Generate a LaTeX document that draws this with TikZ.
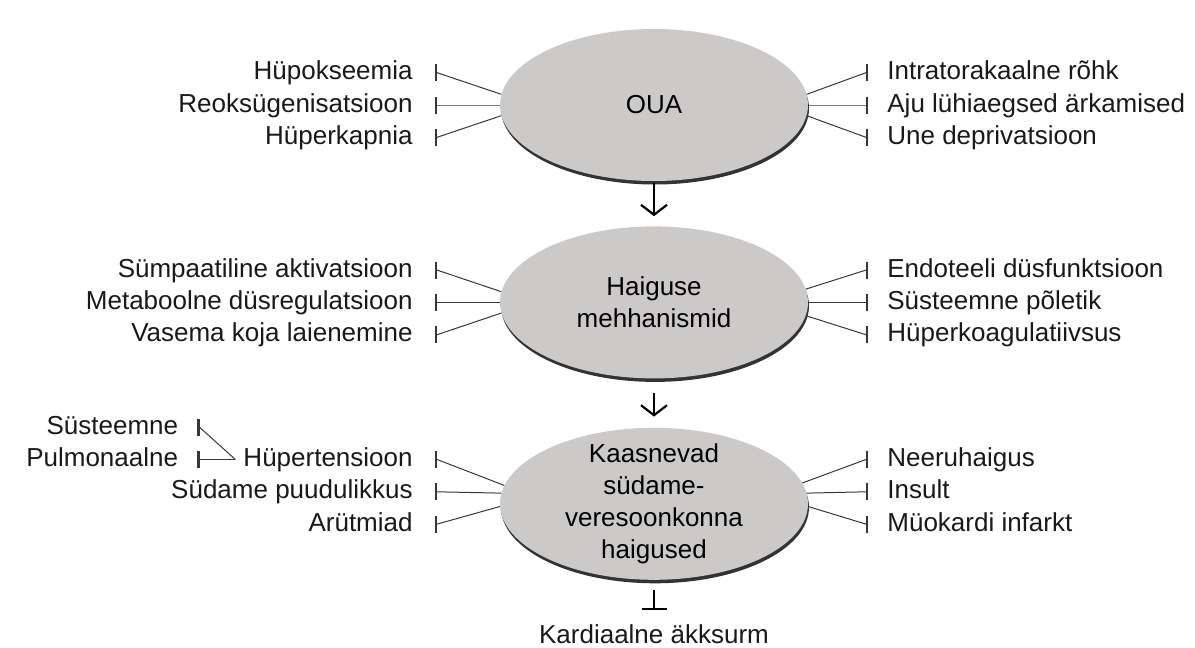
\documentclass[tikz,border=0pt]{standalone}
\usepackage{fontspec}
\setmainfont{Liberation Sans}
\usetikzlibrary{shapes.geometric, arrows.meta, positioning, shadows}

\definecolor{ellgray}{RGB}{204,201,201}
\definecolor{linegray}{RGB}{55,55,55}

\tikzstyle{disease} = [ellipse, minimum width=308pt, minimum height=152pt, inner xsep=0pt, inner ysep=-12pt, fill=ellgray, align=center, drop shadow={shadow xshift=1pt, shadow yshift=-3.5pt, fill=black!80, opacity=1}, font=\fontsize{26}{32}\selectfont]
\tikzstyle{factor} = [inner sep=0pt, text height=19pt, text depth=5pt, text=black!90, font=\fontsize{26}{32}\selectfont]
\tikzstyle{inhibit} = [draw=linegray, line width=1pt, -{Bar[width=17pt, line width=2.6pt]}]
\tikzstyle{arrow} = [line width=2.2pt, -{Straight Barb[length=10pt, width=26pt, line width=2.2pt]}]
\tikzstyle{endbar} = [line width=2.2pt, -{Bar[width=25pt, line width=2.2pt]}]

\begin{document}
\begin{tikzpicture}
\useasboundingbox (0pt,0pt) rectangle (1195pt,-648pt);

% Nodes
\node (oua) [disease] at (654pt,-105pt) {OUA};
\node (haig) [disease, below=45pt of oua] {Haiguse\\mehhanismid};
\node (kaas) [disease, below=49pt of haig] {Kaasnevad\\südame-\\veresoonkonna\\haigused};
\node (kard) [factor, below=44pt of kaas] {Kardiaalne äkksurm};

\node (reoks) [factor, left=87pt of oua.west] {Reoksügenisatsioon};
\node (hypox) [factor, above left=8pt and 0pt of reoks.north east] {Hüpokseemia};
\node (hyperk) [factor, below left=8pt and 0pt of reoks.south east] {Hüperkapnia};
\node (aju) [factor, right=79pt of oua.east] {Aju lühiaegsed ärkamised};
\node (intra) [factor, above right=8pt and 0pt of aju.north west] {Intratorakaalne rõhk};
\node (une) [factor, below right=8pt and 0pt of aju.south west] {Une deprivatsioon};

\node (metab) [factor, left=87pt of haig.west] {Metaboolne düsregulatsioon};
\node (symp) [factor, above left=8pt and 0pt of metab.north east] {Sümpaatiline aktivatsioon};
\node (vasema) [factor, below left=8pt and 0pt of metab.south east] {Vasema koja laienemine};
\node (systp) [factor, right=79pt of haig.east] {Süsteemne põletik};
\node (endo) [factor, above right=8pt and 0pt of systp.north west] {Endoteeli düsfunktsioon};
\node (koag) [factor, below right=8pt and 0pt of systp.south west] {Hüperkoagulatiivsus};

\node (sudame) [factor, left=87pt of kaas.west, yshift=12pt] {Südame puudulikkus};
\node (hypert) [factor, above left=8pt and 0pt of sudame.north east] {Hüpertensioon};
\node (arytm) [factor, below left=8pt and 0pt of sudame.south east] {Arütmiad};
\node (insult) [factor, right=79pt of kaas.east, yshift=12pt] {Insult};
\node (neeru) [factor, above right=8pt and 0pt of insult.north west] {Neeruhaigus};
\node (myok) [factor, below right=8pt and 0pt of insult.south west] {Müokardi infarkt};

\node (pulmo) [factor, left=65pt of hypert.west] {Pulmonaalne};
\node (syst) [factor, above left=8pt and 0pt of pulmo.north east] {Süsteemne};

% Arrows
\draw [arrow, shorten <=2pt, shorten >=10pt] (oua) -- (haig);
\draw [arrow, shorten <=14pt, shorten >=11pt] (haig) -- (kaas);
\draw [endbar, shorten <=10pt, shorten >=14pt] (kaas) -- (kard);

\draw [inhibit] (oua.176) -- ([xshift=24pt]hypox.east) -- ([xshift=22pt]hypox.east);
\draw [inhibit] (oua.180) -- ([xshift=24pt]reoks.east) -- ([xshift=22pt]reoks.east);
\draw [inhibit] (oua.184) -- ([xshift=24pt]hyperk.east) -- ([xshift=22pt]hyperk.east);
\draw [inhibit] (oua.4) -- ([xshift=-21pt]intra.west) -- ([xshift=-19pt]intra.west);
\draw [inhibit] (oua.0) -- ([xshift=-21pt]aju.west) -- ([xshift=-19pt]aju.west);
\draw [inhibit] (oua.-4) -- ([xshift=-21pt]une.west) -- ([xshift=-19pt]une.west);

\draw [inhibit] (haig.176) -- ([xshift=24pt]symp.east) -- ([xshift=22pt]symp.east);
\draw [inhibit] (haig.180) -- ([xshift=24pt]metab.east) -- ([xshift=22pt]metab.east);
\draw [inhibit] (haig.184) -- ([xshift=24pt]vasema.east) -- ([xshift=22pt]vasema.east);
\draw [inhibit] (haig.5) -- ([xshift=-21pt]endo.west) -- ([xshift=-19pt]endo.west);
\draw [inhibit] (haig.0) -- ([xshift=-21pt]systp.west) -- ([xshift=-19pt]systp.west);
\draw [inhibit] (haig.-5) -- ([xshift=-21pt]koag.west) -- ([xshift=-19pt]koag.west);

\draw [inhibit] (kaas.173) -- ([xshift=24pt]hypert.east) -- ([xshift=22pt]hypert.east);
\draw [inhibit] (kaas.176) -- ([xshift=24pt]sudame.east) -- ([xshift=22pt]sudame.east);
\draw [inhibit] (kaas.181) -- ([xshift=24pt]arytm.east) -- ([xshift=22pt]arytm.east);
\draw [inhibit] (kaas.8) -- ([xshift=-21pt]neeru.west) -- ([xshift=-19pt]neeru.west);
\draw [inhibit] (kaas.4) -- ([xshift=-21pt]insult.west) -- ([xshift=-19pt]insult.west);
\draw [inhibit] (kaas.-1) -- ([xshift=-21pt]myok.west) -- ([xshift=-19pt]myok.west);

\draw [inhibit] ([xshift=-8pt]hypert.west) -- ([xshift=21pt]syst.east) -- ([xshift=19pt]syst.east);
\draw [inhibit] ([xshift=-8pt]hypert.west) -- ([xshift=21pt]pulmo.east) -- ([xshift=19pt]pulmo.east);

\end{tikzpicture}
\end{document}
